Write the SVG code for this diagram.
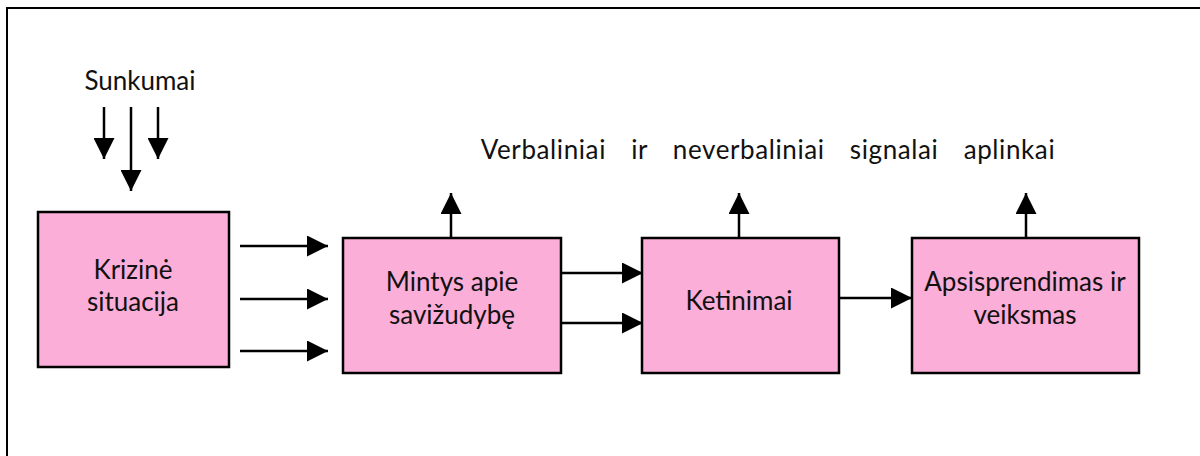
<svg xmlns="http://www.w3.org/2000/svg" width="1200" height="456" viewBox="0 0 1200 456">
<style>
.box{fill:#fbaed8;stroke:#000;stroke-width:2.5}
.t{font-family:Lato,"Liberation Sans",sans-serif;font-size:26px;fill:#111;text-anchor:middle}
.c{stroke:#000;stroke-width:2.5;fill:none;marker-end:url(#ah)}
</style>
<defs>
<marker id="ah" viewBox="0 0 10 10" refX="10" refY="5" markerUnits="userSpaceOnUse" markerWidth="21" markerHeight="21" orient="auto">
<path d="M0,0 L10,5 L0,10 z" fill="#000"/>
</marker>
</defs>
<rect x="0" y="0" width="1200" height="456" fill="#fff"/>
<rect x="7" y="8" width="1210" height="470" fill="none" stroke="#000" stroke-width="2"/>
<text class="t" x="140" y="90">Sunkumai</text>
<text class="t" x="768" y="159" letter-spacing="0.6" word-spacing="18">Verbaliniai ir neverbaliniai signalai aplinkai</text>
<g id="n1"><rect class="box" x="38" y="212" width="191" height="155"/><text class="t" x="133" y="279">Krizinė</text><text class="t" x="133" y="311">situacija</text></g>
<g id="n2"><rect class="box" x="343" y="238" width="218" height="135"/><text class="t" x="452" y="291">Mintys apie</text><text class="t" x="452" y="324">savižudybę</text></g>
<g id="n3"><rect class="box" x="642" y="238" width="197" height="135"/><text class="t" x="739" y="310">Ketinimai</text></g>
<g id="n4"><rect class="box" x="912" y="238" width="227" height="135"/><text class="t" x="1025" y="291">Apsisprendimas ir</text><text class="t" x="1025" y="324">veiksmas</text></g>
<g id="connectors">
<line class="c" x1="104" y1="107" x2="104" y2="159"/>
<line class="c" x1="131" y1="107" x2="131" y2="191"/>
<line class="c" x1="158" y1="107" x2="158" y2="159"/>
<line class="c" x1="240" y1="246" x2="328" y2="246"/>
<line class="c" x1="240" y1="299" x2="328" y2="299"/>
<line class="c" x1="240" y1="351" x2="328" y2="351"/>
<line class="c" x1="561" y1="273" x2="643" y2="273"/>
<line class="c" x1="561" y1="323" x2="643" y2="323"/>
<line class="c" x1="839" y1="298" x2="912" y2="298"/>
<line class="c" x1="451" y1="238" x2="451" y2="193"/>
<line class="c" x1="739" y1="238" x2="739" y2="193"/>
<line class="c" x1="1026" y1="238" x2="1026" y2="193"/>
</g>
</svg>
